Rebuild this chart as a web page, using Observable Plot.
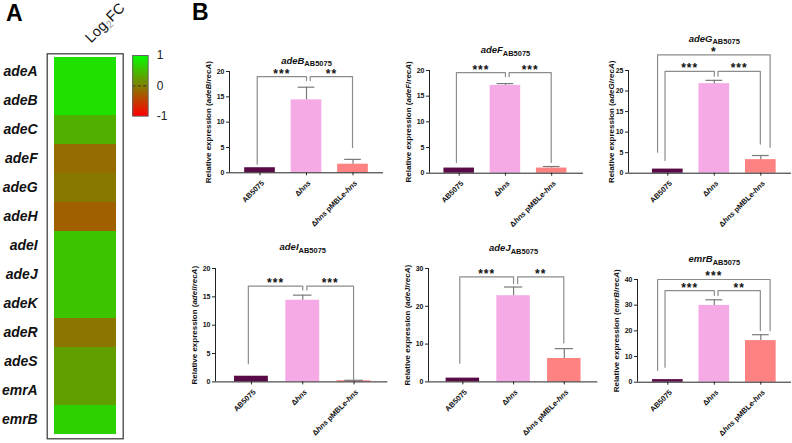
<!DOCTYPE html>
<html><head><meta charset="utf-8">
<script src="https://cdn.jsdelivr.net/npm/d3@7"></script>
<script src="https://cdn.jsdelivr.net/npm/@observablehq/plot@0.6"></script>
<style>
body{margin:0;background:#fff;font-family:"Liberation Sans",Arial,sans-serif;}
#fig{position:relative;width:792px;height:443px;overflow:hidden;background:#fff;}
#fig svg{position:absolute;overflow:visible;}
.plab{position:absolute;font-weight:bold;font-size:23px;line-height:1;}
</style></head><body><div id="fig"></div>
<script>
// ---------- DATA ----------
const genes = ["adeA","adeB","adeC","adeF","adeG","adeH","adeI","adeJ","adeK","adeR","adeS","emrA","emrB"];
const log2fc = [0.76,0.76,0.37,-0.16,-0.065,-0.25,0.535,0.535,0.535,-0.08,0.24,0.24,0.64];
const legendTicks = [1,0,-1];

const strains = ["AB5075","Δhns","Δhns pMBLe-hns"];
const barColors = ["#5a0b47","#f5aae6","#ff8282"];
const panelGenes = ["adeB","adeF","adeG","adeI","adeJ","emrB"];

const adeB_mean = [1, 14.4, 1.7],  adeB_sd = [0, 2.5, 0.95];
const adeF_mean = [1, 17.1, 1.0],  adeF_sd = [0, 0.35, 0.3];
const adeG_mean = [1, 21.8, 3.3],  adeG_sd = [0, 0.8, 1.0];
const adeI_mean = [1, 14.4, 0.2],  adeI_sd = [0, 0.9, 0.08];
const adeJ_mean = [1, 22.8, 6.2],  adeJ_sd = [0, 2.3, 2.6];
const emrB_mean = [1, 29.9, 16.2], emrB_sd = [0, 2.2, 2.3];

const adeB_ticks = [0,5,10,15,20];
const adeF_ticks = [0,5,10,15,20];
const adeG_ticks = [0,5,10,15,20,25];
const adeI_ticks = [0,5,10,15,20];
const adeJ_ticks = [0,10,20,30];
const emrB_ticks = [0,10,20,30,40];

// significance brackets: [from, to, top, legFrom, legTo, label, outer]
const adeB_sig = [[0,1,19.0,1.7,18.2,"***",0],[1,2,19.0,18.2,5.0,"**",0]];
const adeF_sig = [[0,1,19.6,2.1,18.8,"***",0],[1,2,19.6,18.8,2.1,"***",0]];
const adeG_sig = [[0,1,24.8,3.1,23.6,"***",0],[1,2,24.8,23.6,7.1,"***",0],[0,2,28.8,5.1,6.3,"*",1]];
const adeI_sig = [[0,1,16.9,3.2,16.2,"***",0],[1,2,16.9,16.2,0.4,"***",0]];
const adeJ_sig = [[0,1,27.8,4.9,26.0,"***",0],[1,2,27.8,26.0,10.3,"**",0]];
const emrB_sig = [[0,1,35.7,5.8,33.8,"***",0],[1,2,35.7,33.8,20.1,"**",0],[0,2,40.0,4.6,20.1,"***",1]];

// ---------- LAYOUT ----------
const FONT = '"Liberation Sans", Arial, sans-serif';
const layouts = [
  {axis:229,   right:383,   top:70.7, y0:172,   dmin:-0.656, dmax:2.656, title:63,   ylab:-21.5},
  {axis:429,   right:583,   top:70,   y0:172.7, dmin:-0.642, dmax:2.688, title:53,   ylab:-21.5},
  {axis:627.7, right:790.7, top:70,   y0:172.7, dmin:-0.845, dmax:2.66,  title:41.5, ylab:-17.5},
  {axis:215,   right:387.3, top:268.3,y0:381.7, dmin:-0.70,  dmax:2.657, title:250,  ylab:-21.5},
  {axis:427.7, right:597,   top:268.3,y0:381.7, dmin:-0.677, dmax:2.66,  title:251,  ylab:-21.5},
  {axis:636.7, right:790.7, top:279,  y0:381.7, dmin:-0.652, dmax:2.66,  title:262,  ylab:-21}
];

const fig = document.getElementById("fig");
const colorScale = {type:"linear", domain:[-1,0,1], range:["#ff0000","#808000","#00ff00"], interpolate:"rgb"};
const SVGNS = "http://www.w3.org/2000/svg";

// rebuild text elements whose content matches `test` with styled tspans
function richText(svg, test, fn) {
  svg.querySelectorAll("text").forEach(t => {
    const s = t.textContent;
    if (!test(s)) return;
    while (t.firstChild) t.removeChild(t.firstChild);
    fn(s).forEach(seg => {
      const ts = document.createElementNS(SVGNS, "tspan");
      ts.textContent = seg.t;
      for (const [k,v] of Object.entries(seg.a || {})) ts.setAttribute(k, v);
      t.appendChild(ts);
    });
  });
}
function place(svg, left, top) {
  svg.style.left = left + "px";
  svg.style.top = top + "px";
  fig.appendChild(svg);
}

// ---------- PANEL A: heatmap ----------
{
  const W = 165, H = 443;
  const svg = Plot.plot({
    width: W, height: H,
    marginLeft: 46.7, marginRight: W - 122.7, marginTop: 53.3, marginBottom: H - 438.3,
    style: {background:"transparent", fontFamily: FONT, overflow:"visible"},
    x: {axis:null, domain:["Log2FC"]},
    y: {axis:null, domain:genes, padding:0},
    color: colorScale,
    marks: [
      Plot.cell(genes, {x: () => "Log2FC", y: d => d, fill: (d,i) => log2fc[i], shapeRendering:"crispEdges"}),
      Plot.frame({stroke:"#333", strokeWidth:1.2}),
      Plot.text(genes, {y: d => d, frameAnchor:"left", textAnchor:"end", lineAnchor:"middle", dx:-9.5, fontSize:14, fontWeight:"bold", fontStyle:"italic", fill:"#111"}),
      Plot.text(["Log2FC"], {frameAnchor:"top", textAnchor:"start", lineAnchor:"middle", rotate:-45, dx:2.5, dy:-13.5, fontSize:14.5, fill:"#111"})
    ]
  });
  richText(svg, s => s === "Log2FC", s => [{t:"Log"},{t:"2", a:{"font-size":10, dy:3, fill:"#999"}},{t:"FC", a:{dy:-3}}]);
  place(svg, 0, 0);

  const LW = 45, LH = 75;
  const ramp = d3.range(-1, 1, 0.02);
  const leg = Plot.plot({
    width: LW, height: LH,
    marginLeft: 2.3, marginRight: LW - 2.3 - 15.4, marginTop: 5, marginBottom: LH - 5 - 60.7,
    style: {background:"transparent", fontFamily: FONT, overflow:"visible"},
    x: {axis:null}, y: {axis:null, domain:[-1,1]},
    color: colorScale,
    marks: [
      Plot.rect(ramp, {y1: d => d, y2: d => d + 0.021, fill: d => d + 0.01, shapeRendering:"crispEdges"}),
      Plot.ruleY([0], {stroke:"#333", strokeDasharray:"3,2.5", strokeWidth:1}),
      Plot.frame({stroke:"#666"}),
      Plot.text(legendTicks, {y: d => d, text: d => String(d), frameAnchor:"right", textAnchor:"start", lineAnchor:"middle", dx:8.5, fontSize:12, fill:"#222"})
    ]
  });
  place(leg, 130, 50);
}

// ---------- PANEL B: bar charts ----------
const means = [adeB_mean, adeF_mean, adeG_mean, adeI_mean, adeJ_mean, emrB_mean];
const sds = [adeB_sd, adeF_sd, adeG_sd, adeI_sd, adeJ_sd, emrB_sd];
const tickSets = [adeB_ticks, adeF_ticks, adeG_ticks, adeI_ticks, adeJ_ticks, emrB_ticks];
const sigs = [adeB_sig, adeF_sig, adeG_sig, adeI_sig, adeJ_sig, emrB_sig];

function barChart(gene, mean, sd, yticks, sig, L) {
  const mL = 45, mR = 12, mT = 50, mB = 75;
  const plotW = L.right - L.axis, plotH = L.y0 - L.top;
  const ymax = yticks[yticks.length - 1];
  const segs = [], labels = [];
  sig.forEach(([a, b, top, la, lb, label, outer], k) => {
    const x1 = a + (a === 0 ? -0.06 : 0.08) - outer * 0.16;
    const x2 = b + (b === 2 ? -0.01 : 0) + outer * 0.21;
    segs.push({k, x:x1, y:la}, {k, x:x1, y:top}, {k, x:x2, y:top}, {k, x:x2, y:lb});
    labels.push({x:(x1 + x2) / 2, y:top, label});
  });
  const idx = (d, i) => i;
  const svg = Plot.plot({
    width: mL + plotW + mR, height: mT + plotH + mB,
    marginLeft: mL, marginRight: mR, marginTop: mT, marginBottom: mB,
    style: {background:"transparent", fontFamily: FONT, overflow:"visible", fontWeight:"bold"},
    x: {domain:[L.dmin, L.dmax], label:null},
    y: {domain:[0, ymax], label:null},
    color: {domain: strains, range: barColors},
    marks: [
      Plot.rect(strains, {x1: (d,i) => i - 0.33, x2: (d,i) => i + 0.33, y1: 0, y2: (d,i) => mean[i], fill: d => d}),
      Plot.ruleX(strains, {x: idx, y1: (d,i) => mean[i], y2: (d,i) => mean[i] + sd[i], filter: (d,i) => sd[i] > 0, stroke:"#7a7a7a", strokeWidth:1.2}),
      Plot.ruleY(strains, {y: (d,i) => mean[i] + sd[i], x1: (d,i) => i - 0.18, x2: (d,i) => i + 0.18, filter: (d,i) => sd[i] > 0, stroke:"#7a7a7a", strokeWidth:1.2}),
      Plot.line(segs, {x:"x", y:"y", z:"k", stroke:"#8c8c8c", strokeWidth:1.2}),
      Plot.text(labels, {x:"x", y:"y", text:"label", lineAnchor:"bottom", dy:1, fontSize:12, fontWeight:"bold", fill:"#111"}),
      Plot.ruleY([0], {stroke:"#222"}),
      Plot.ruleX([L.dmin], {y1: 0, y2: ymax, stroke:"#222"}),
      Plot.axisY(yticks, {tickSize:3, tickPadding:2, fontSize:7, fontWeight:"bold", label:null, stroke:"#222", fill:"#111"}),
      Plot.axisX([0,1,2], {tickSize:3, tickFormat: () => "", label:null, stroke:"#222"}),
      Plot.text(strains, {x: idx, frameAnchor:"bottom", rotate:-45, textAnchor:"end", lineAnchor:"middle", dx:3, dy:9, fontSize:7.5, fontWeight:"bold", fill:"#111"}),
      Plot.text([`Relative expression (${gene}/recA)`], {frameAnchor:"left", rotate:-90, textAnchor:"middle", lineAnchor:"middle", dx:L.ylab, fontSize:8, fontWeight:"bold", fill:"#111"}),
      Plot.text([gene], {x: () => 1, frameAnchor:"top", textAnchor:"middle", lineAnchor:"bottom", dy: L.title - L.top, fontSize:9.5, fontWeight:"bold", fill:"#111"})
    ]
  });
  richText(svg, s => s === gene, s => [{t:s, a:{"font-style":"italic"}}, {t:"AB5075", a:{"font-size":7.5, dy:2.5}}]);
  richText(svg, s => strains.includes(s) && s.includes("hns"),
    s => s.split(/(hns)/).filter(p => p).map(p => p === "hns" ? {t:p, a:{"font-style":"italic"}} : {t:p}));
  richText(svg, s => s.startsWith("Relative expression"), s => {
    const m = s.match(/^(.*\()(\w+)(\/)(\w+)(\))$/);
    return [{t:m[1]}, {t:m[2], a:{"font-style":"italic"}}, {t:m[3]}, {t:m[4], a:{"font-style":"italic"}}, {t:m[5]}];
  });
  svg.querySelectorAll("text").forEach(t => { if (/^\*+$/.test(t.textContent)) t.setAttribute("letter-spacing", "1"); });
  place(svg, L.axis - mL, L.top - mT);
}

panelGenes.forEach((g, k) => barChart(g, means[k], sds[k], tickSets[k], sigs[k], layouts[k]));

// panel letters
for (const [txt, x, y] of [["A", 6, 2], ["B", 192, 1]]) {
  const d = document.createElement("div");
  d.className = "plab"; d.textContent = txt;
  d.style.left = x + "px"; d.style.top = y + "px";
  fig.appendChild(d);
}
</script></body></html>
